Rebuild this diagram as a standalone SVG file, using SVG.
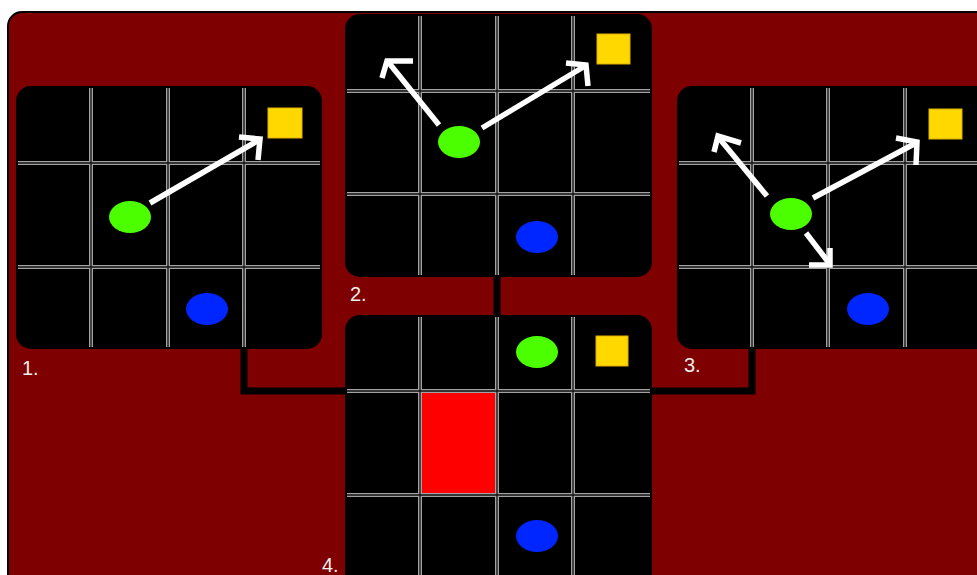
<svg xmlns="http://www.w3.org/2000/svg" xmlns:xlink="http://www.w3.org/1999/xlink" width="977" height="575" viewBox="0 0 977 575">
<style>
.panel{fill:#000}
.gw{fill:none;stroke:#a3a3a3;stroke-width:4}
.gn{fill:none;stroke:#111;stroke-width:1.3}
.arr{fill:none;stroke:#fff;stroke-width:5.5;stroke-linejoin:miter}
.grn{fill:#4cff00}
.blu{fill:#0026ff}
.yel{fill:#ffd800;stroke:#e0b000;stroke-width:1}
.conn{fill:none;stroke:#000;stroke-width:7}
.lbl{font-family:"Liberation Sans",Arial,sans-serif;font-size:20px;fill:#eee}
</style>
<defs>
<path id="grid1" d="M91,88V347M168,88V347M244,88V347M18,163H320M18,267H320"/>
<path id="grid2" d="M420,16V275M497,16V275M573,16V275M347,91H650M347,194H650"/>
<path id="grid3" d="M752,88V347M828,88V347M905,88V347M679,163H977M679,267H977"/>
<path id="grid4" d="M420,317V575M497,317V575M573,317V575M347,391H650M347,495H650"/>
</defs>
<rect x="8" y="12" width="990" height="590" rx="14" fill="#7f0000" stroke="#000" stroke-width="2"/>
<g id="connectors">
<path class="conn" d="M244,347V391H346"/>
<path class="conn" d="M497,275V317"/>
<path class="conn" d="M752,347V391H651"/>
</g>
<g id="panel1">
<rect class="panel" x="16" y="86" width="306" height="263" rx="15"/>
<use xlink:href="#grid1" class="gw"/>
<use xlink:href="#grid1" class="gn"/>
<rect class="yel" x="268" y="108" width="34" height="30"/>
<ellipse class="grn" cx="130" cy="217" rx="21" ry="16"/>
<ellipse class="blu" cx="207" cy="309" rx="21" ry="16"/>
<path class="arr" d="M150,203L259,140"/>
<polyline class="arr" points="239,137 260,139 258,160"/>
<text class="lbl" x="22" y="375">1.</text>
</g>
<g id="panel2">
<rect class="panel" x="345" y="14" width="307" height="263" rx="15"/>
<use xlink:href="#grid2" class="gw"/>
<use xlink:href="#grid2" class="gn"/>
<rect class="yel" x="597" y="34" width="33" height="30"/>
<ellipse class="grn" cx="459" cy="142" rx="21" ry="16"/>
<ellipse class="blu" cx="537" cy="237" rx="21" ry="16"/>
<path class="arr" d="M482,128L585,66"/>
<polyline class="arr" points="566,63 586,65 588,86"/>
<path class="arr" d="M439,125L389,63"/>
<polyline class="arr" points="413,61 387,61 382,78"/>
<text class="lbl" x="350" y="301">2.</text>
</g>
<g id="panel3">
<rect class="panel" x="677" y="86" width="320" height="263" rx="15"/>
<use xlink:href="#grid3" class="gw"/>
<use xlink:href="#grid3" class="gn"/>
<rect class="yel" x="929" y="109" width="33" height="30"/>
<ellipse class="grn" cx="791" cy="214" rx="21" ry="16"/>
<ellipse class="blu" cx="868" cy="309" rx="21" ry="16"/>
<path class="arr" d="M813,198L916,143"/>
<polyline class="arr" points="896,138 917,142 916,165"/>
<path class="arr" d="M767,196L719,138"/>
<polyline class="arr" points="741,143 718,136 714,152"/>
<path class="arr" d="M806,233L829,263"/>
<polyline class="arr" points="809,265 830,265 830,248"/>
<text class="lbl" x="684" y="372">3.</text>
</g>
<g id="panel4">
<rect class="panel" x="345" y="315" width="307" height="290" rx="15"/>
<use xlink:href="#grid4" class="gw"/>
<use xlink:href="#grid4" class="gn"/>
<rect x="422" y="393" width="73" height="100" fill="#ff0000"/>
<rect class="yel" x="596" y="336" width="32" height="30"/>
<ellipse class="grn" cx="537" cy="352" rx="21" ry="16"/>
<ellipse class="blu" cx="537" cy="536" rx="21" ry="16"/>
<text class="lbl" x="322" y="572">4.</text>
</g>
</svg>
